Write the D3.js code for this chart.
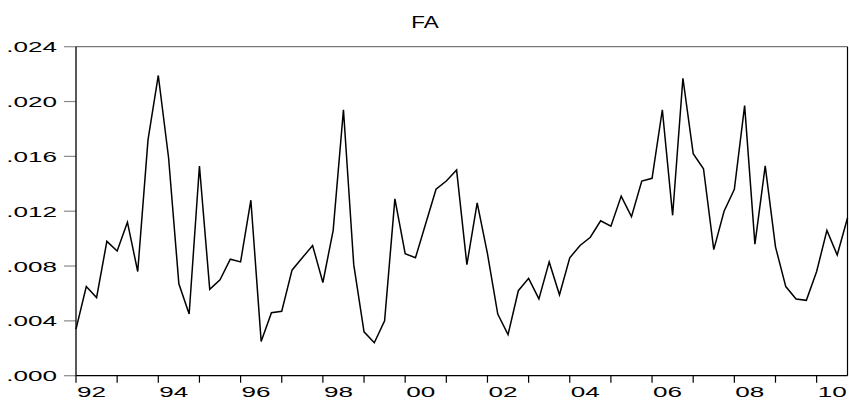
<!DOCTYPE html>
<html><head><meta charset="utf-8">
<script src="https://cdn.jsdelivr.net/npm/d3@7"></script>
<style>body{margin:0;background:#fff}svg{display:block}text{font-family:Arial,"Liberation Sans",sans-serif}</style>
</head><body>
<svg id="c" width="849" height="406"></svg>
<script>
const title = "FA";
const startYear = 1992, periodsPerYear = 4;
const values = [
 .0034,.0065,.0057,.0098,.0091,.0112,.0076,.0172,.0219,.0159,
 .0067,.0045,.0153,.0063,.0070,.0085,.0083,.0128,.0025,.0046,
 .0047,.0077,.0086,.0095,.0068,.0106,.0194,.0081,.0032,.0024,
 .0040,.0129,.0089,.0086,.0111,.0136,.0142,.0150,.0081,.0126,
 .0089,.0045,.0030,.0062,.0071,.0056,.0083,.0059,.0086,.0095,
 .0101,.0113,.0109,.0131,.0116,.0142,.0144,.0194,.0117,.0217,
 .0162,.0151,.0092,.0120,.0136,.0197,.0096,.0153,.0094,.0065,
 .0056,.0055,.0076,.0106,.0088,.0115
];
const yTicks = [0, .004, .008, .012, .016, .020, .024];
const yTickLabels = [".000", ".004", ".008", ".012", ".016", ".020", ".024"];
const xTickYears = d3.range(1992, 2011);
const xLabelYears = [1992,1994,1996,1998,2000,2002,2004,2006,2008,2010];

const svg = d3.select("#c");
const L = 76, R = 847.5, T = 46.7, B = 375.7;
const x = d3.scaleLinear().domain([0, values.length - 1]).range([L, R]);
const y = d3.scaleLinear().domain([0, .024]).range([B, T]);
const xYear = yr => x((yr - startYear) * periodsPerYear);

// frame
svg.append("line").attr("x1", L).attr("x2", R).attr("y1", T).attr("y2", T).attr("stroke", "#555").attr("stroke-width", 1);
svg.append("line").attr("x1", R).attr("x2", R).attr("y1", T).attr("y2", B).attr("stroke", "#000").attr("stroke-width", 1.2);

// y axis ticks
const yAxis = svg.append("g");
yAxis.selectAll("line.t").data(yTicks).join("line")
  .attr("x1", 64).attr("x2", L).attr("y1", d => y(d)).attr("y2", d => y(d))
  .attr("stroke", "#8a8a8a").attr("stroke-width", 1.2);
yAxis.selectAll("text").data(yTicks).join("text")
  .attr("transform", d => `translate(57,${y(d) + 5.5}) scale(1.74,1)`)
  .attr("text-anchor", "end").attr("font-size", 15).attr("fill", "#000")
  .text((d, i) => yTickLabels[i]);
svg.append("line").attr("x1", L).attr("x2", L).attr("y1", T).attr("y2", B).attr("stroke", "#000").attr("stroke-width", 1.3);

// x axis
const xAxis = svg.append("g");
xAxis.selectAll("line").data(xTickYears).join("line")
  .attr("x1", d => xYear(d)).attr("x2", d => xYear(d)).attr("y1", B).attr("y2", B + 7)
  .attr("stroke", "#000").attr("stroke-width", 1.2);
xAxis.selectAll("text").data(xLabelYears).join("text")
  .attr("transform", d => `translate(${xYear(d) + 1},397.3) scale(1.74,1)`)
  .attr("font-size", 15).attr("fill", "#000")
  .text(d => String(d % 100).padStart(2, "0"));
svg.append("line").attr("x1", L).attr("x2", R).attr("y1", B).attr("y2", B).attr("stroke", "#000").attr("stroke-width", 1.3);

// series
svg.append("path").datum(values)
  .attr("d", d3.line().x((d, i) => x(i)).y(d => y(d)))
  .attr("fill", "none").attr("stroke", "#000").attr("stroke-width", 1.5).attr("stroke-linejoin", "miter");

// title
svg.append("text").attr("transform", "translate(425,28) scale(1.4,1)")
  .attr("text-anchor", "middle").attr("font-size", 16).attr("fill", "#000").text(title);
</script>
</body></html>
